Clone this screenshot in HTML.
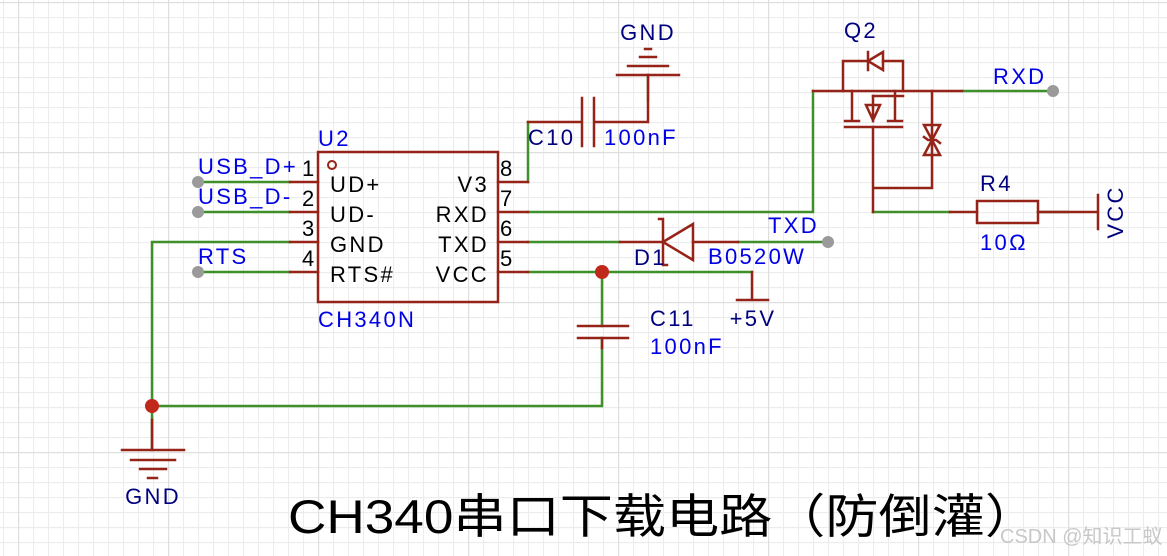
<!DOCTYPE html>
<html><head><meta charset="utf-8"><style>
html,body{margin:0;padding:0;background:#fff;}
svg{display:block;}
text{font-family:"Liberation Sans","Noto Sans CJK SC",sans-serif;}
</style></head><body>
<svg width="1167" height="556" viewBox="0 0 1167 556" xmlns="http://www.w3.org/2000/svg">
<defs>
<pattern id="g" x="3" y="2" width="15" height="15" patternUnits="userSpaceOnUse">
<path d="M0.5 0V15M0 0.5H15" stroke="#ececec" stroke-width="1.2" fill="none"/>
</pattern>
<pattern id="G" x="18" y="2" width="150" height="150" patternUnits="userSpaceOnUse">
<path d="M0.5 0V150M0 0.5H150" stroke="#dedede" stroke-width="1.3" fill="none"/>
</pattern>
</defs>
<rect width="1167" height="556" fill="#fff"/>
<rect width="1167" height="556" fill="url(#g)"/>
<rect width="1167" height="556" fill="url(#G)"/>

<g fill="none" stroke-width="2.5" stroke-linecap="square">
<g stroke="#3f8f2a">
<path d="M198 182H290M198 212H290M198 272H290M290 242H152V450"/>
<path d="M528 182V122M528 212H813V91"/>
<path d="M528 242H620M738 242H828"/>
<path d="M528 272H752M602 272V326M602 338V406H152"/>
<path d="M648 75V100"/>
<path d="M962 91H1053M873 212H950M1038 212H1068"/>
</g>
<g stroke="#962318">
<rect x="318" y="152" width="180" height="150"/>
<path d="M290 182H318M290 212H318M290 242H318M290 272H318"/>
<path d="M498 182H528M498 212H528M498 242H528M498 272H528"/>
<path d="M528 122H582M594 122H648V75M582 98V146M594 98V146"/>
<path d="M617 75H679M628 66H668M640 57H656M645 49H651"/>
<path d="M620 242H663M693 242H738"/>
<path d="M663 242L693 224V260Z"/>
<path d="M659 219H663V265H667"/>
<path d="M752 272V300M737 300H768"/>
<path d="M578 326H628M578 338H628M602 338V348"/>
<path d="M152 420V450M122 450H184M131 460H175M140 469H166M148 478H157"/>
<path d="M813 91H962"/>
<path d="M843 91V61H868M883 61H903V91"/>
<path d="M868 61L883 52V70ZM868 52V70"/>
<path d="M852 91V121M845 121H859M895 91V121M888 121H902M873 96V121M845 127H902"/>
<path d="M873 96H903"/>
<path d="M866 105H880L873 120Z"/>
<path d="M873 127V212M873 188H932V91"/>
<path d="M924 125H940L932 140ZM924 155H940L932 140ZM924 137L928 140H936L940 143"/>
<path d="M950 212H977M1038 212H1068M1068 212H1098M1098 195V229"/>
<rect x="977" y="201" width="61" height="22"/>
</g>
</g>
<circle cx="332" cy="165" r="4" fill="none" stroke="#962318" stroke-width="2"/>
<circle cx="602" cy="272" r="7" fill="#c0281c"/>
<circle cx="152" cy="406" r="7" fill="#c0281c"/>
<g fill="#9a9a9a">
<circle cx="198" cy="182" r="6"/><circle cx="198" cy="212" r="6"/><circle cx="198" cy="272" r="6"/>
<circle cx="828" cy="242" r="6"/><circle cx="1053" cy="91" r="6"/>
</g>

<g font-size="22" letter-spacing="2.3">
<g fill="#0000e6">
<text x="318" y="146">U2</text>
<text x="198" y="174">USB_D+</text>
<text x="198" y="204">USB_D-</text>
<text x="198" y="264">RTS</text>
<text x="318" y="327">CH340N</text>
<text x="604" y="145">100nF</text>
<text x="768" y="233">TXD</text>
<text x="708" y="264">B0520W</text>
<text x="650" y="354">100nF</text>
<text x="993" y="84">RXD</text>
<text x="980" y="250">10Ω</text>
</g>
<g fill="#000">
<text x="302" y="176">1</text><text x="302" y="206">2</text><text x="302" y="236">3</text><text x="302" y="266">4</text>
<text x="500" y="176">8</text><text x="500" y="206">7</text><text x="500" y="236">6</text><text x="500" y="266">5</text>
<text x="330" y="192">UD+</text><text x="330" y="222">UD-</text><text x="330" y="252">GND</text><text x="330" y="282">RTS#</text>
<text x="489" y="192" text-anchor="end">V3</text><text x="489" y="222" text-anchor="end">RXD</text><text x="489" y="252" text-anchor="end">TXD</text><text x="489" y="282" text-anchor="end">VCC</text>
</g>
<g fill="#00007f">
<text x="648" y="40" text-anchor="middle">GND</text>
<text x="528" y="145">C10</text>
<text x="634" y="265">D1</text>
<text x="650" y="326">C11</text>
<text x="753" y="326" text-anchor="middle">+5V</text>
<text x="153" y="504" text-anchor="middle">GND</text>
<text x="844" y="38">Q2</text>
<text x="980" y="191">R4</text>
<text transform="translate(1123 212) rotate(-90)" text-anchor="middle">VCC</text>
</g>
</g>
<text x="288" y="533" font-size="47" fill="#000" textLength="750" lengthAdjust="spacingAndGlyphs">CH340串口下载电路（防倒灌）</text>
<text x="1000" y="543" font-size="20" fill="#c8c8c8">CSDN @知识工蚁</text>
</svg>
</body></html>
